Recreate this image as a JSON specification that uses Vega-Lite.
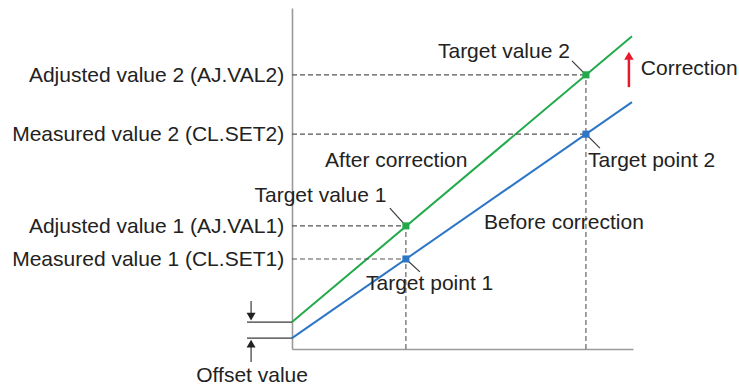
{
  "$schema": "https://vega.github.io/schema/vega-lite/v6.json",
  "width": 341,
  "height": 341,
  "autosize": {"type": "none"},
  "padding": {"left": 292, "top": 8, "right": 106, "bottom": 37},
  "background": "white",
  "config": {"view": {"stroke": null}},
  "datasets": {
    "lines": [
      {"series": "After correction", "x": 0, "y": 0.79},
      {"series": "After correction", "x": 9.97, "y": 9.17},
      {"series": "Before correction", "x": 0, "y": 0.32},
      {"series": "Before correction", "x": 9.97, "y": 7.24}
    ],
    "points": [
      {"series": "After correction", "x": 3.34, "y": 3.61},
      {"series": "After correction", "x": 8.62, "y": 8.04},
      {"series": "Before correction", "x": 3.34, "y": 2.64},
      {"series": "Before correction", "x": 8.62, "y": 6.30}
    ],
    "hdash": [
      {"x": 0, "x2": 8.62, "y": 8.04},
      {"x": 0, "x2": 8.62, "y": 6.30},
      {"x": 0, "x2": 3.34, "y": 3.61},
      {"x": 0, "x2": 3.34, "y": 2.64}
    ],
    "vdash": [
      {"x": 3.34, "y": 0, "y2": 3.61},
      {"x": 8.62, "y": 0, "y2": 8.04}
    ],
    "leaders": [
      {"x": 8.21, "y": 8.45, "x2": 8.62, "y2": 8.04},
      {"x": 8.62, "y": 6.30, "x2": 9.03, "y2": 5.89},
      {"x": 2.87, "y": 4.13, "x2": 3.34, "y2": 3.61},
      {"x": 3.34, "y": 2.64, "x2": 3.75, "y2": 2.26},
      {"x": -1.32, "y": 0.79, "x2": 0, "y2": 0.79},
      {"x": -1.32, "y": 0.32, "x2": 0, "y2": 0.32},
      {"x": -1.2, "y": 1.41, "x2": -1.2, "y2": 0.95},
      {"x": -1.2, "y": 0.15, "x2": -1.2, "y2": -0.38}
    ],
    "arrowheads": [
      {"dir": "down", "x": -1.2, "y": 0.95},
      {"dir": "up", "x": -1.2, "y": 0.16}
    ],
    "correction": [
      {"x": 9.88, "y": 7.68, "y2": 8.5}
    ],
    "correctionHead": [
      {"x": 9.88, "y": 8.6}
    ],
    "ylabels": [
      {"label": "Adjusted value 2 (AJ.VAL2)", "x": -0.23, "y": 8.04},
      {"label": "Measured value 2 (CL.SET2)", "x": -0.23, "y": 6.30},
      {"label": "Adjusted value 1 (AJ.VAL1)", "x": -0.23, "y": 3.61},
      {"label": "Measured value 1 (CL.SET1)", "x": -0.23, "y": 2.64}
    ],
    "notes": [
      {"label": "Target value 2", "x": 4.28, "y": 8.53},
      {"label": "Correction", "x": 10.23, "y": 8.04},
      {"label": "After correction", "x": 0.97, "y": 5.34},
      {"label": "Target point 2", "x": 8.68, "y": 5.34},
      {"label": "Target value 1", "x": -1.1, "y": 4.31},
      {"label": "Before correction", "x": 5.63, "y": 3.52},
      {"label": "Target point 1", "x": 2.17, "y": 1.73}
    ],
    "offset": [
      {"label": "Offset value", "x": -1.17, "y": -0.97}
    ]
  },
  "layer": [
    {
      "data": {"name": "lines"},
      "mark": {"type": "line", "strokeWidth": 2},
      "encoding": {
        "x": {"field": "x", "type": "quantitative", "scale": {"domain": [0, 10], "nice": false, "zero": false},
              "axis": {"title": null, "labels": false, "ticks": false, "grid": false, "domainColor": "#9a9a9a", "domainWidth": 1.6}},
        "y": {"field": "y", "type": "quantitative", "scale": {"domain": [0, 10], "nice": false, "zero": false},
              "axis": {"title": null, "labels": false, "ticks": false, "grid": false, "domainColor": "#9a9a9a", "domainWidth": 1.6}},
        "color": {"field": "series", "type": "nominal", "legend": null,
                  "scale": {"domain": ["After correction", "Before correction"], "range": ["#22aa4a", "#2d76c6"]}}
      }
    },
    {
      "data": {"name": "hdash"},
      "mark": {"type": "rule", "color": "#555555", "strokeWidth": 1.1, "strokeDash": [5, 3]},
      "encoding": {
        "x": {"field": "x", "type": "quantitative"},
        "x2": {"field": "x2"},
        "y": {"field": "y", "type": "quantitative"}
      }
    },
    {
      "data": {"name": "vdash"},
      "mark": {"type": "rule", "color": "#555555", "strokeWidth": 1.1, "strokeDash": [5, 3]},
      "encoding": {
        "x": {"field": "x", "type": "quantitative"},
        "y": {"field": "y", "type": "quantitative"},
        "y2": {"field": "y2"}
      }
    },
    {
      "data": {"name": "leaders"},
      "mark": {"type": "rule", "color": "#3a3a3a", "strokeWidth": 1.2},
      "encoding": {
        "x": {"field": "x", "type": "quantitative"},
        "x2": {"field": "x2"},
        "y": {"field": "y", "type": "quantitative"},
        "y2": {"field": "y2"}
      }
    },
    {
      "data": {"name": "arrowheads"},
      "mark": {"type": "point", "filled": true, "color": "#222222", "size": 80, "opacity": 1},
      "encoding": {
        "x": {"field": "x", "type": "quantitative"},
        "y": {"field": "y", "type": "quantitative"},
        "shape": {"field": "dir", "type": "nominal", "legend": null,
                  "scale": {"domain": ["down", "up"], "range": ["triangle-down", "triangle-up"]}}
      }
    },
    {
      "data": {"name": "correction"},
      "mark": {"type": "rule", "color": "#e8192c", "strokeWidth": 2.5},
      "encoding": {
        "x": {"field": "x", "type": "quantitative"},
        "y": {"field": "y", "type": "quantitative"},
        "y2": {"field": "y2"}
      }
    },
    {
      "data": {"name": "correctionHead"},
      "mark": {"type": "point", "shape": "triangle-up", "filled": true, "color": "#e8192c", "size": 90, "opacity": 1},
      "encoding": {
        "x": {"field": "x", "type": "quantitative"},
        "y": {"field": "y", "type": "quantitative"}
      }
    },
    {
      "data": {"name": "points"},
      "mark": {"type": "point", "shape": "square", "filled": true, "size": 50, "opacity": 1},
      "encoding": {
        "x": {"field": "x", "type": "quantitative"},
        "y": {"field": "y", "type": "quantitative"},
        "color": {"field": "series", "type": "nominal", "legend": null,
                  "scale": {"domain": ["After correction", "Before correction"], "range": ["#139a3e", "#1f62b3"]}}
      }
    },
    {
      "data": {"name": "ylabels"},
      "mark": {"type": "text", "align": "right", "baseline": "middle", "font": "Liberation Sans", "fontSize": 21, "color": "#222222", "dy": 1},
      "encoding": {
        "x": {"field": "x", "type": "quantitative"},
        "y": {"field": "y", "type": "quantitative"},
        "text": {"field": "label"}
      }
    },
    {
      "data": {"name": "notes"},
      "mark": {"type": "text", "align": "left", "baseline": "alphabetic", "font": "Liberation Sans", "fontSize": 21, "color": "#222222"},
      "encoding": {
        "x": {"field": "x", "type": "quantitative"},
        "y": {"field": "y", "type": "quantitative"},
        "text": {"field": "label"}
      }
    },
    {
      "data": {"name": "offset"},
      "mark": {"type": "text", "align": "center", "baseline": "alphabetic", "font": "Liberation Sans", "fontSize": 21, "color": "#222222"},
      "encoding": {
        "x": {"field": "x", "type": "quantitative"},
        "y": {"field": "y", "type": "quantitative"},
        "text": {"field": "label"}
      }
    }
  ]
}
